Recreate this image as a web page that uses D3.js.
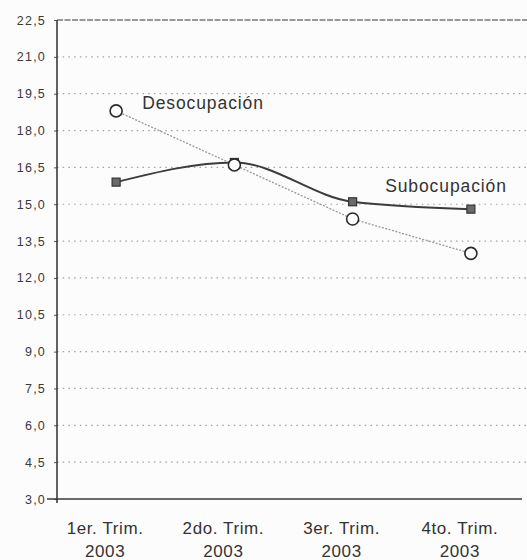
<!DOCTYPE html>
<html>
<head>
<meta charset="utf-8">
<script src="https://cdn.jsdelivr.net/npm/d3@7"></script>
<style>
  body { margin: 0; background: #fcfcfc; }
  svg { display: block; font-family: Arial, "Liberation Sans", sans-serif; }
</style>
</head>
<body>
<svg id="chart" width="527" height="560"></svg>
<script>
// data
var trimestres = ['1er. Trim.', '2do. Trim.', '3er. Trim.', '4to. Trim.'];
var anio = '2003';
var desocupacion = [18.8, 16.6, 14.4, 13.0];
var subocupacion = [15.9, 16.7, 15.1, 14.8];
var yTicks = [3.0, 4.5, 6.0, 7.5, 9.0, 10.5, 12.0, 13.5, 15.0, 16.5, 18.0, 19.5, 21.0, 22.5];

var svg = d3.select('#chart');
var plotLeft = 57, plotTop = 20, plotBottom = 499, plotRight = 527;

var x = d3.scalePoint().domain(trimestres).range([plotLeft, 530]).padding(0.5);
var y = d3.scaleLinear().domain([3, 22.5]).range([plotBottom, plotTop]);

var fmt = function(d){ return d3.format('.1f')(d).replace('.', ','); };

// grid lines (dotted)
svg.append('g').selectAll('line')
    .data(yTicks.filter(function(d){ return d > 3 && d < 22.5; }))
    .enter().append('line')
    .attr('x1', plotLeft).attr('x2', plotRight)
    .attr('y1', function(d){ return y(d); })
    .attr('y2', function(d){ return y(d); })
    .style('stroke', '#a0a0a0')
    .style('stroke-width', 1.2)
    .style('stroke-dasharray', '1.5,4.2');

// top frame
svg.append('line')
    .attr('x1', plotLeft).attr('x2', plotRight)
    .attr('y1', y(22.5)).attr('y2', y(22.5))
    .style('stroke', '#777')
    .style('stroke-width', 1.3)
    .style('stroke-dasharray', '6,1.5');

// y axis
var yAxis = d3.axisLeft(y).tickValues(yTicks).tickFormat(fmt).tickSize(3).tickPadding(8);
var gy = svg.append('g').attr('transform', 'translate(' + plotLeft + ',0)').call(yAxis);
gy.select('.domain').remove();
gy.selectAll('.tick line').style('stroke', '#555');
gy.selectAll('text')
    .style('font-size', '12.5px')
    .style('letter-spacing', '1.2px')
    .style('fill', '#3a3a3a');

svg.append('line')
    .attr('x1', plotLeft).attr('x2', plotLeft)
    .attr('y1', plotTop).attr('y2', plotBottom + 4)
    .style('stroke', '#3a3a3a').style('stroke-width', 1.6);

// x axis
svg.append('line')
    .attr('x1', plotLeft - 10).attr('x2', 522)
    .attr('y1', plotBottom).attr('y2', plotBottom)
    .style('stroke', '#3a3a3a').style('stroke-width', 1.6);

var xl = svg.append('g').selectAll('text')
    .data(trimestres)
    .enter().append('text')
    .attr('x', function(d){ return x(d) - 11; })
    .attr('y', 534)
    .attr('text-anchor', 'middle')
    .style('font-size', '17px')
    .style('letter-spacing', '0.6px')
    .style('fill', '#333');
xl.append('tspan').text(function(d){ return d; });
xl.append('tspan')
    .attr('x', function(d){ return x(d) - 11; })
    .attr('dy', 23)
    .text(anio);

// Desocupación: dotted grey line with open circles
var lineDes = d3.line()
    .x(function(d, i){ return x(trimestres[i]); })
    .y(function(d){ return y(d); });

svg.append('path')
    .datum(desocupacion)
    .attr('d', lineDes)
    .style('fill', 'none')
    .style('stroke', '#999')
    .style('stroke-width', 1.3)
    .style('stroke-dasharray', '2,1.5');

// Subocupación: smoothed dark line with squares
var lineSub = d3.line()
    .x(function(d, i){ return x(trimestres[i]); })
    .y(function(d){ return y(d); })
    .curve(d3.curveMonotoneX);

svg.append('path')
    .datum(subocupacion)
    .attr('d', lineSub)
    .style('fill', 'none')
    .style('stroke', '#3c3c3c')
    .style('stroke-width', 2);

svg.append('g').selectAll('rect')
    .data(subocupacion)
    .enter().append('rect')
    .attr('x', function(d, i){ return x(trimestres[i]) - 4; })
    .attr('y', function(d){ return y(d) - 4; })
    .attr('width', 8).attr('height', 8)
    .style('fill', '#6a6a6a')
    .style('stroke', '#333')
    .style('stroke-width', 1.2);

svg.append('g').selectAll('circle')
    .data(desocupacion)
    .enter().append('circle')
    .attr('cx', function(d, i){ return x(trimestres[i]); })
    .attr('cy', function(d){ return y(d); })
    .attr('r', 6)
    .style('fill', '#fff')
    .style('stroke', '#2a2a2a')
    .style('stroke-width', 1.6);

// series labels
svg.append('text')
    .attr('x', x(trimestres[0]) + 26)
    .attr('y', y(desocupacion[0]) - 2)
    .style('font-size', '17.5px')
    .style('letter-spacing', '0.9px')
    .style('fill', '#333')
    .text('Desocupación');

svg.append('text')
    .attr('x', x(trimestres[3]) + 36)
    .attr('y', y(subocupacion[3]) - 17)
    .attr('text-anchor', 'end')
    .style('font-size', '17.5px')
    .style('letter-spacing', '0.9px')
    .style('fill', '#333')
    .text('Subocupación');
</script>
</body>
</html>
